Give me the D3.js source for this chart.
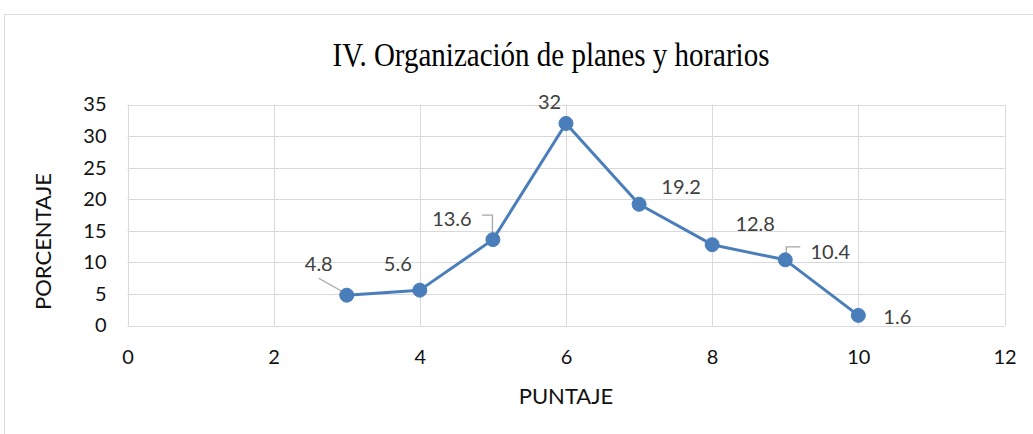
<!DOCTYPE html>
<html><head><meta charset="utf-8">
<script src="https://cdn.jsdelivr.net/npm/d3@7"></script>
<style>body{margin:0;background:#fff}svg{display:block}</style>
</head><body>
<script>
const title = "IV. Organización de planes y horarios";
const xLabel = "PUNTAJE";
const yLabel = "PORCENTAJE";
const puntaje = [3, 4, 5, 6, 7, 8, 9, 10];
const porcentaje = [4.8, 5.6, 13.6, 32, 19.2, 12.8, 10.4, 1.6];
const xTicks = [0, 2, 4, 6, 8, 10, 12];
const yTicks = [0, 5, 10, 15, 20, 25, 30, 35];
// label offsets (dx, dy) relative to the point, and optional leader lines
const labelOffsets = [[-28,-32],[-22,-27],[-41,-22],[-16.5,-22.5],[42,-18],[43,-22],[45,-9],[39,1]];
const leaders = [
  [[-28,-17],[-5,-4]],
  null,
  [[-11,-24.5],[-0.5,-24.5],[-0.5,-3]],
  null,null,null,
  [[1,-2],[1,-13],[15,-13]],
  null
];

const W = 1033, H = 434;
const svg = d3.select("body").append("svg").attr("width", W).attr("height", H);
svg.append("rect").attr("width", W).attr("height", H).attr("fill", "#fff");
// outer chart frame (top & left visible)
svg.append("path").attr("d", `M4.5,${H+2} V14.5 H${W+2}`).attr("fill","none").attr("stroke","#d9d9d9").attr("stroke-width",1);

const x = d3.scaleLinear().domain([0, 12]).range([127.5, 1004.5]);
const y = d3.scaleLinear().domain([0, 35]).range([325.5, 104.5]);
const font = "Lato, 'Open Sans', sans-serif";

// gridlines
svg.append("g").selectAll("line").data(yTicks).join("line")
  .attr("x1", x(0)).attr("x2", x(12)).attr("y1", d=>Math.round(y(d))+0.5).attr("y2", d=>Math.round(y(d))+0.5)
  .attr("stroke", "#d9d9d9").attr("stroke-width", 1);
svg.append("g").selectAll("line").data(xTicks).join("line")
  .attr("y1", y(0)).attr("y2", y(35)).attr("x1", d=>Math.round(x(d))+0.5).attr("x2", d=>Math.round(x(d))+0.5)
  .attr("stroke", "#d9d9d9").attr("stroke-width", 1);

// axes (labels only)
const yAxis = d3.axisLeft(y).tickValues(yTicks).tickSize(0).tickPadding(21);
const gy = svg.append("g").attr("transform", `translate(${x(0)},0)`).call(yAxis);
gy.select(".domain").remove();
gy.selectAll("text").attr("font-family", font).attr("font-size", 20).attr("fill", "#111");

const xAxis = d3.axisBottom(x).tickValues(xTicks).tickSize(0).tickPadding(24);
const gx = svg.append("g").attr("transform", `translate(0,${y(0)})`).call(xAxis);
gx.select(".domain").remove();
gx.selectAll("text").attr("font-family", font).attr("font-size", 20).attr("fill", "#111");

// title
svg.append("text").attr("transform", "translate(551,66) scale(1,1.18)").attr("text-anchor", "middle")
  .attr("font-family", "'Liberation Serif', 'Times New Roman', serif").attr("font-size", 29).attr("fill", "#000").text(title);

// axis titles
svg.append("text").attr("x", 566).attr("y", 404).attr("text-anchor", "middle")
  .attr("font-family", font).attr("font-size", 22).attr("fill", "#111").text(xLabel);
svg.append("text").attr("transform", "translate(50.5,241.5) rotate(-90)").attr("text-anchor", "middle")
  .attr("font-family", font).attr("font-size", 22).attr("fill", "#111").text(yLabel);

const data = puntaje.map((p, i) => ({p, v: porcentaje[i], i}));

// line
svg.append("path").datum(data)
  .attr("d", d3.line().x(d=>x(d.p)).y(d=>y(d.v)))
  .attr("fill", "none").attr("stroke", "#4a7ebb").attr("stroke-width", 3).attr("stroke-linejoin","round");

// leader lines
data.forEach(d => {
  const L = leaders[d.i];
  if (!L) return;
  svg.append("path")
    .attr("d", d3.line()(L.map(([dx,dy]) => [x(d.p)+dx, y(d.v)+dy])))
    .attr("fill","none").attr("stroke","#a6a6a6").attr("stroke-width",1.3);
});

// markers
svg.append("g").selectAll("circle").data(data).join("circle")
  .attr("cx", d=>x(d.p)).attr("cy", d=>y(d.v)).attr("r", 7)
  .attr("fill", "#4a7ebb").attr("stroke", "#4a7ebb").attr("stroke-width", 1);

// data labels
svg.append("g").selectAll("text").data(data).join("text")
  .attr("x", d=>x(d.p)+labelOffsets[d.i][0]).attr("y", d=>y(d.v)+labelOffsets[d.i][1])
  .attr("text-anchor", "middle").attr("dominant-baseline", "central")
  .attr("font-family", font).attr("font-size", 20).attr("fill", "#404040")
  .text(d=>d.v);
</script>
</body></html>
